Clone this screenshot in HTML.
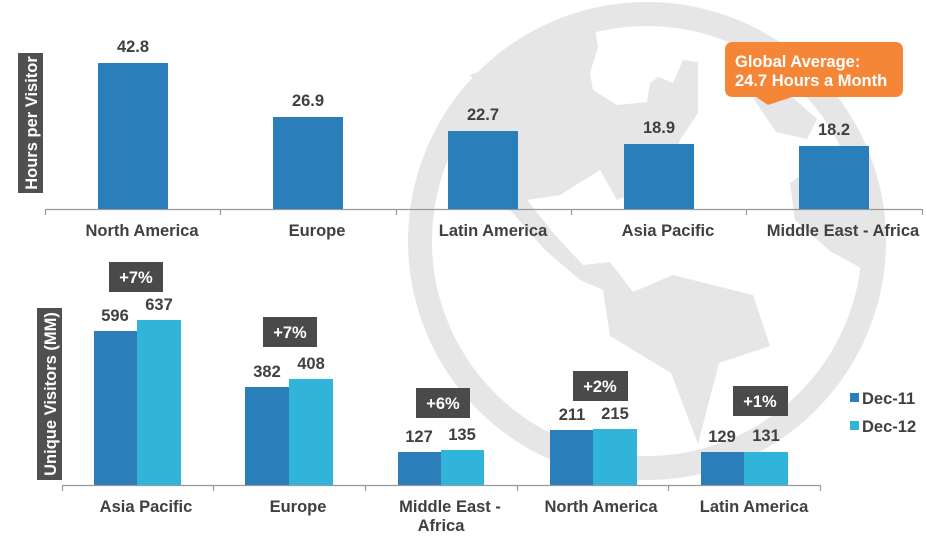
<!DOCTYPE html>
<html><head><meta charset="utf-8"><style>
html,body{margin:0;padding:0;background:#fff;}
svg{display:block;font-family:"Liberation Sans",Arial,sans-serif;}
</style></head><body>
<svg width="927" height="536" viewBox="0 0 927 536" xmlns="http://www.w3.org/2000/svg">
<!-- globe -->
<circle cx="647" cy="241" r="227" fill="none" stroke="#e6e6e6" stroke-width="24"/>
<polygon fill="#e6e6e6" points="470,75 595,28 598,47 590,73 593,90 617,105 647,102 650,83 658,77 673,83 683,60 698,62 698,113 680,140 665,180 617,200 600,170 560,195 527,200 555,235 583,265 610,262 633,292 673,275 753,295 770,346 719,363 698,444 671,373 610,336 603,290 580,280 545,250 510,210 470,160 450,140 460,125 485,97"/>
<polygon fill="#e6e6e6" points="753,98 790,95 817,119 807,139 776,132"/>
<polygon fill="#e6e6e6" points="790,183 800,176 840,180 875,200 880,260 861,268 830,251 795,220"/>

<!-- TOP CHART -->
<rect x="18" y="53" width="25" height="140" fill="#505050"/>
<text transform="translate(37,123) rotate(-90)" text-anchor="middle" font-size="16.5" font-weight="bold" fill="#fff">Hours per Visitor</text>
<line x1="45" y1="209.5" x2="922" y2="209.5" stroke="#999" stroke-width="1.2"/>
<g stroke="#999" stroke-width="1.2">
<line x1="45.5" y1="209" x2="45.5" y2="215"/><line x1="220.5" y1="209" x2="220.5" y2="215"/><line x1="396.5" y1="209" x2="396.5" y2="215"/><line x1="571.5" y1="209" x2="571.5" y2="215"/><line x1="746.5" y1="209" x2="746.5" y2="215"/><line x1="922.5" y1="209" x2="922.5" y2="215"/>
</g>
<g fill="#2a7fba">
<rect x="98" y="63" width="70" height="146"/>
<rect x="273" y="117" width="70" height="92"/>
<rect x="448" y="131" width="70" height="78"/>
<rect x="624" y="144" width="70" height="65"/>
<rect x="799" y="146" width="70" height="63"/>
</g>
<g font-size="16.5" font-weight="bold" fill="#404040" text-anchor="middle">
<text x="133" y="52">42.8</text>
<text x="308" y="106">26.9</text>
<text x="483" y="120">22.7</text>
<text x="659" y="133">18.9</text>
<text x="834" y="135">18.2</text>
<text x="142" y="236">North America</text>
<text x="317" y="236">Europe</text>
<text x="493" y="236">Latin America</text>
<text x="668" y="236">Asia Pacific</text>
<text x="843" y="236">Middle East - Africa</text>
</g>
<!-- callout -->
<path d="M733,42 H895 Q903,42 903,50 V89 Q903,97 895,97 H792 L768,105 L756,97 H733 Q725,97 725,89 V50 Q725,42 733,42 Z" fill="#f58638"/>
<text x="735" y="67" font-size="16.5" font-weight="bold" fill="#fff">Global Average:</text>
<text x="735" y="86" font-size="16.5" font-weight="bold" fill="#fff">24.7 Hours a Month</text>

<!-- BOTTOM CHART -->
<rect x="37" y="308" width="25" height="172" fill="#505050"/>
<text transform="translate(56,394) rotate(-90)" text-anchor="middle" font-size="16.5" font-weight="bold" fill="#fff">Unique Visitors (MM)</text>
<line x1="62" y1="485.5" x2="821" y2="485.5" stroke="#999" stroke-width="1.2"/>
<g stroke="#999" stroke-width="1.2">
<line x1="62.5" y1="485" x2="62.5" y2="491"/><line x1="213.5" y1="485" x2="213.5" y2="491"/><line x1="365.5" y1="485" x2="365.5" y2="491"/><line x1="517.5" y1="485" x2="517.5" y2="491"/><line x1="668.5" y1="485" x2="668.5" y2="491"/><line x1="820.5" y1="485" x2="820.5" y2="491"/>
</g>
<g fill="#2a7fba">
<rect x="94" y="331" width="43" height="154"/>
<rect x="245" y="387" width="44" height="98"/>
<rect x="398" y="452" width="43" height="33"/>
<rect x="550" y="430" width="43" height="55"/>
<rect x="701" y="452" width="43" height="33"/>
</g>
<g fill="#31b4d9">
<rect x="137" y="320" width="44" height="165"/>
<rect x="289" y="379" width="44" height="106"/>
<rect x="441" y="450" width="43" height="35"/>
<rect x="593" y="429" width="44" height="56"/>
<rect x="744" y="452" width="44" height="33"/>
</g>
<g font-size="16.5" font-weight="bold" fill="#404040" text-anchor="middle">
<text x="115" y="321">596</text><text x="159" y="310">637</text>
<text x="267" y="377">382</text><text x="311" y="369">408</text>
<text x="419" y="442">127</text><text x="462" y="440">135</text>
<text x="572" y="420">211</text><text x="615" y="419">215</text>
<text x="722" y="442">129</text><text x="766" y="441">131</text>
<text x="146" y="512">Asia Pacific</text>
<text x="298" y="512">Europe</text>
<text x="450" y="512">Middle East -</text>
<text x="441" y="531">Africa</text>
<text x="601" y="512">North America</text>
<text x="754" y="512">Latin America</text>
</g>
<g fill="#4a4a4a">
<rect x="109" y="262" width="54" height="30"/>
<rect x="263" y="317" width="54" height="30"/>
<rect x="416" y="388" width="54" height="30"/>
<rect x="573" y="371" width="55" height="30"/>
<rect x="733" y="386" width="55" height="30"/>
</g>
<g font-size="16.5" font-weight="bold" fill="#fff" text-anchor="middle">
<text x="136" y="283">+7%</text>
<text x="290" y="338">+7%</text>
<text x="443" y="409">+6%</text>
<text x="600" y="392">+2%</text>
<text x="760" y="407">+1%</text>
</g>
<!-- legend -->
<rect x="850" y="393" width="9" height="9" fill="#2a7fba"/>
<rect x="850" y="421" width="9" height="9" fill="#31b4d9"/>
<text x="862" y="404" font-size="16.5" font-weight="bold" fill="#404040">Dec-11</text>
<text x="862" y="432" font-size="16.5" font-weight="bold" fill="#404040">Dec-12</text>
</svg>
</body></html>
